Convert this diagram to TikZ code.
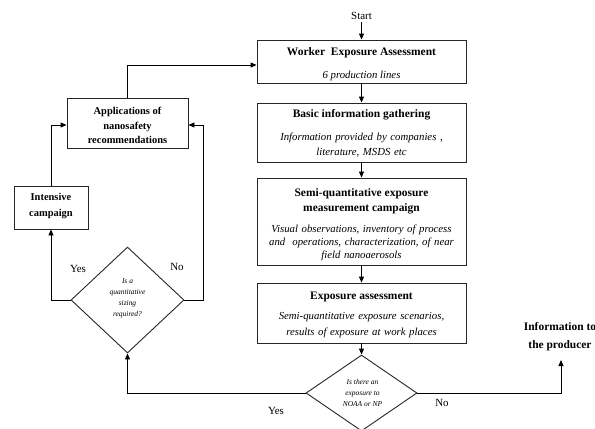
\documentclass[tikz,border=0pt]{standalone}
\usepackage{fontspec}
\setmainfont{Liberation Serif}
\usetikzlibrary{arrows.meta,shapes.geometric}
\begin{document}
\begin{tikzpicture}[x=1bp,y=-1bp,
  line/.style={draw=black,line width=0.9bp},
  arr/.style={line,-{Triangle[length=6bp,width=5bp]}},
  box/.style={draw=black!85,line width=0.9bp,inner sep=0,rectangle},
  dia/.style={draw=black!85,line width=0.9bp,diamond,inner sep=0},
  ttl/.style={font=\fontsize{11.5}{15}\selectfont\bfseries,align=center,inner sep=0},
  itl/.style={font=\fontsize{10.8}{13}\selectfont\itshape,align=center,inner sep=0},
  small/.style={font=\fontsize{7.5}{11}\selectfont\itshape,align=center,inner sep=0},
  lab/.style={font=\fontsize{11}{13}\selectfont,inner sep=0}]
\useasboundingbox (0,0) rectangle (595,428);
\clip (0,0) rectangle (595,428);
% main column boxes
\node[box,minimum width=209bp,minimum height=43bp] (b1) at (361.5,61.5) {};
\node[box,minimum width=209bp,minimum height=59bp] (b2) at (361.5,132.5) {};
\node[box,minimum width=209bp,minimum height=87bp] (b3) at (361.5,221.5) {};
\node[box,minimum width=209bp,minimum height=60bp] (b4) at (361.5,313) {};
\node[dia,minimum width=111bp,minimum height=76bp] (d2) at (361.5,393) {};
% left boxes
\node[box,minimum width=121bp,minimum height=50bp] (ap) at (127.5,123) {};
\node[box,minimum width=74bp,minimum height=43bp] (ic) at (51,207.5) {};
\node[dia,minimum width=113bp,minimum height=106bp] (d1) at (127.5,300) {};
% texts
\node[lab] (st) at (361.5,16) {Start};
\node[ttl] (t1) at (361.5,52.5) {Worker\ \ Exposure Assessment};
\node[itl] (i1) at (361.5,76) {6 production lines};
\node[ttl] (t2) at (361.5,115) {Basic information gathering};
\node[itl,text width=207bp,font=\fontsize{10.8}{15}\selectfont\itshape] (i2) at (361.5,145.5) {Information provided by companies ,\\ literature, MSDS etc};
\node[ttl] (t3) at (361.5,201.5) {Semi-quantitative exposure\\ measurement campaign};
\node[itl,text width=207bp] (i3) at (361.5,243) {Visual observations, inventory of process\\ and\ \ operations, characterization, of near\\ field nanoaerosols};
\node[ttl] (t4) at (361.5,297) {Exposure assessment};
\node[itl,text width=207bp,font=\fontsize{10.8}{16}\selectfont\itshape] (i4) at (361.5,325) {Semi-quantitative exposure scenarios,\\ results of exposure at work places};
\node[small] (q2) at (362.5,393) {Is there an\\ exposure to\\ NOAA or NP};
\node[small] (q1) at (127.5,298.5) {Is a\\ quantitative\\ sizing\\ required?};
\node[ttl,font=\fontsize{10.5}{14.5}\selectfont\bfseries] (ta) at (127.5,125.5) {Applications of\\ nanosafety\\ recommendations};
\node[ttl,font=\fontsize{10.5}{16}\selectfont\bfseries] (ti) at (51,206) {Intensive\\ campaign};
\node[ttl,font=\fontsize{11.5}{18}\selectfont\bfseries] (ip) at (560,336.5) {Information to\\ the producer};
\node[lab] (y1) at (78,269) {Yes};
\node[lab] (n1) at (177,267) {No};
\node[lab] (y2) at (276,411) {Yes};
\node[lab] (n2) at (442,403) {No};
% connectors
\coordinate (pe) at (561,360);
\draw[arr] (st.south) ++(0,2) -- (b1.north);
\draw[arr] (b1) -- (b2);
\draw[arr] (b2) -- (b3);
\draw[arr] (b3) -- (b4);
\draw[arr] (b4) -- (d2.north);
\draw[arr] (d2.west) -| (d1.south);
\draw[arr] (d2.east) -| (pe);
\draw[arr] (d1.west) -| (ic.south);
\draw[arr] (d1.east) -- (203,300) |- (ap.east |- 0,125);
\draw[arr] (ic.north) |- (ap.west |- 0,125);
\draw[arr] (ap.north) |- (b1.west |- 0,65);
\end{tikzpicture}
\end{document}
